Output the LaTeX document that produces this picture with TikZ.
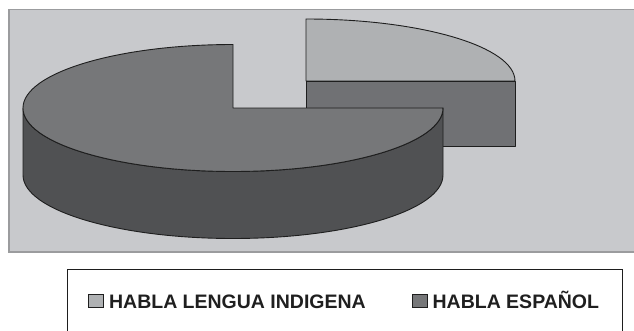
\documentclass[tikz,border=0pt]{standalone}
\usepackage{fontspec}
\setmainfont{Liberation Sans}
\usetikzlibrary{positioning}
\definecolor{plotbg}{HTML}{C8C9CC}
\definecolor{plotframe}{HTML}{9B9C9E}
\definecolor{indtop}{HTML}{AFB1B3}
\definecolor{indside}{HTML}{707174}
\definecolor{esptop}{HTML}{767779}
\definecolor{espside}{HTML}{505153}
\definecolor{edge}{HTML}{1E1E1E}

\begin{document}
\begin{tikzpicture}[x=1pt,y=1pt,
    face/.style={draw=edge, line width=0.9pt, line join=round},
    legkey/.style={draw=edge, line width=0.8pt, minimum width=15pt, minimum height=13pt, inner sep=0pt},
    legtext/.style={font=\bfseries\fontsize{19.5}{22}\selectfont, text=black!88, inner sep=0pt, text height=14pt, text depth=0pt}]
        \useasboundingbox (0,0) rectangle (634,330);
        % plot area
        \draw[fill=plotbg, draw=plotframe, line width=1.2pt] (9,320.5) rectangle (640,78);

        \coordinate (ind) at (306,249);
        \coordinate (esp) at (233,222);

        % pulled-out slice
        \draw[face, fill=indside] (ind) rectangle ++(209,-65);
        \draw[face, fill=indtop] (ind) -- ++(0,62) arc[start angle=90, end angle=0, x radius=209, y radius=62] -- cycle;

        % rest of the pie
        \draw[face, fill=espside] (esp) ++(-210,0) arc[start angle=180, end angle=360, x radius=210, y radius=63.5]
            -- ++(0,-67) arc[start angle=0, end angle=-180, x radius=210, y radius=63.5] -- cycle;
        \draw[face, fill=esptop] (esp) -- ++(0,63.5) arc[start angle=90, end angle=360, x radius=210, y radius=63.5] -- cycle;

        % legend
        \draw[draw=edge, line width=0.9pt] (67,61) rectangle (622,-5);
        \node[legkey, fill=indtop] (keyind) at (96,29) {};
        \node[legtext, right=5pt of keyind] (labind) {HABLA LENGUA INDIGENA};
        \node[legkey, fill=esptop] (keyesp) at (419.5,29) {};
        \node[legtext, right=5pt of keyesp] (labesp) {HABLA ESPAÑOL};
\end{tikzpicture}
\end{document}
